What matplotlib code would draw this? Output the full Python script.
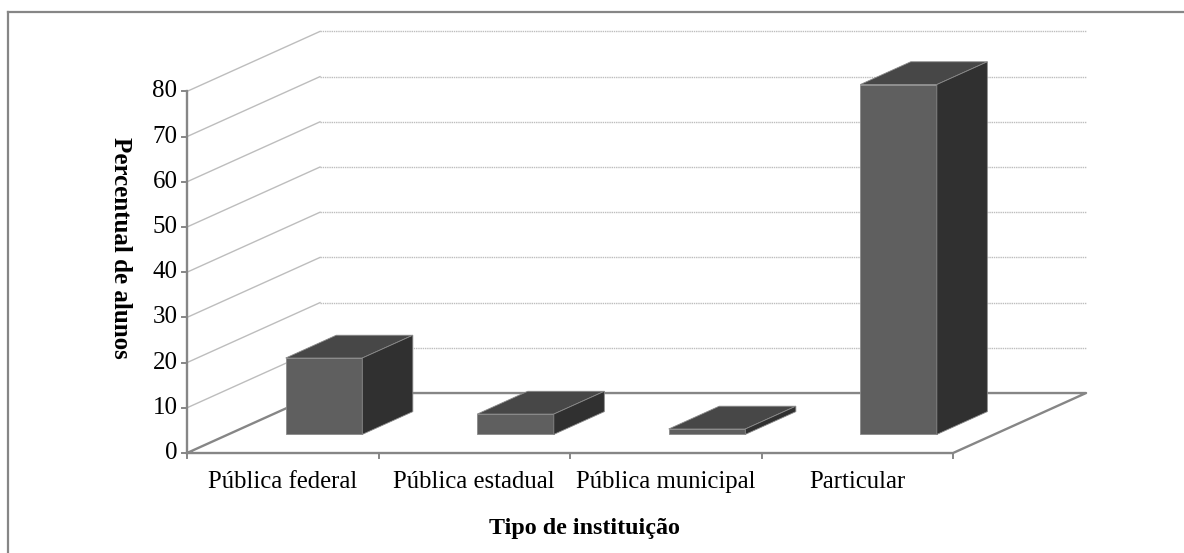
import matplotlib
matplotlib.use('Agg')
import matplotlib.pyplot as plt
from matplotlib.patches import Polygon
from matplotlib.lines import Line2D

# dados
categorias = ['Pública federal', 'Pública estadual', 'Pública municipal', 'Particular']
percentuais = [16.9, 4.5, 1.2, 77.4]
ticks_y = [0, 10, 20, 30, 40, 50, 60, 70, 80]

# eixo de profundidade (projecao obliqua), em unidades de dados
PX = 0.6945
PY = 13.27


def proj(x, v, d):
    return (x + d * PX, v + d * PY)


fig = plt.figure(figsize=(11.84, 5.53), dpi=100)
ax = fig.add_axes([0, 0, 1, 1])
ax.set_xlim(-0.9765, 5.206)
ax.set_ylim(-22.12, 100.22)
ax.axis('off')

fonte = 'Liberation Serif'
cinza_grade = '#bdbdbd'
cinza_eixo = '#868686'
n = len(categorias)
vmax = ticks_y[-1]

# parede do fundo e parede lateral
for v in ticks_y[1:]:
    p0 = proj(0, v, 1)
    p1 = proj(n, v, 1)
    ax.plot([p0[0], p1[0]], [p0[1], p1[1]], color=cinza_grade, lw=1, ls=(0, (1, 0.6)), zorder=1)
    q0 = proj(0, v, 0)
    ax.plot([q0[0], p0[0]], [q0[1], p0[1]], color=cinza_grade, lw=1, zorder=1)

# piso
cantos = [proj(0, 0, 0), proj(n, 0, 0), proj(n, 0, 1), proj(0, 0, 1), proj(0, 0, 0)]
ax.plot([c[0] for c in cantos], [c[1] for c in cantos], color=cinza_eixo, lw=1.7, zorder=2)

# eixo y
ax.plot([0, 0], [0, vmax], color=cinza_eixo, lw=1.7, zorder=2)
for v in ticks_y:
    ax.plot([-0.026, 0], [v, v], color=cinza_eixo, lw=1.4, zorder=2)
    ax.text(-0.05, v, str(v), ha='right', va='center', fontsize=18, family=fonte)
for i in range(n + 1):
    ax.plot([i, i], [0, -1.1], color=cinza_eixo, lw=1.4, zorder=2)

# barras
larg = 0.40
d0, d1 = 0.31, 0.69
for i, h in enumerate(percentuais):
    x0 = i + 0.5 - larg / 2
    x1 = i + 0.5 + larg / 2
    frente = [proj(x0, 0, d0), proj(x1, 0, d0), proj(x1, h, d0), proj(x0, h, d0)]
    topo = [proj(x0, h, d0), proj(x1, h, d0), proj(x1, h, d1), proj(x0, h, d1)]
    lado = [proj(x1, 0, d0), proj(x1, 0, d1), proj(x1, h, d1), proj(x1, h, d0)]
    for face, cor in ((frente, '#5f5f5f'), (topo, '#474747'), (lado, '#303030')):
        ax.add_patch(Polygon(face, closed=True, facecolor=cor, edgecolor='#8a8a8a', lw=0.6, zorder=3 + i))

# rotulos
for i, c in enumerate(categorias):
    ax.text(i + 0.5, -6.4, c, ha='center', va='center', fontsize=17.8, family=fonte)
ax.text(2.078, -16.6, 'Tipo de instituição', ha='center', va='center', fontsize=17.3,
        family=fonte, fontweight='bold')
ax.text(-0.345, 45.3, 'Percentual de alunos', ha='center', va='center', rotation=270,
        fontsize=18, family=fonte, fontweight='bold')

# moldura
W, H = 1184, 553
fig.add_artist(Line2D([8 / W, 8 / W], [0, 1 - 12 / H], color=cinza_eixo, lw=1.6))
fig.add_artist(Line2D([8 / W, 1], [1 - 12 / H, 1 - 12 / H], color=cinza_eixo, lw=1.6))

fig.savefig('out.png', dpi=100)
